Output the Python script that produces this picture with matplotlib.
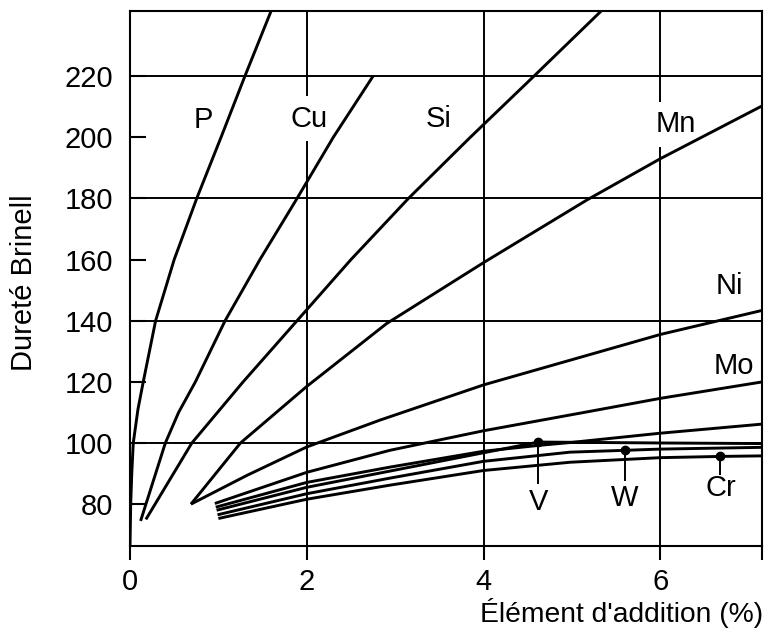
import numpy as np
import matplotlib
matplotlib.use('Agg')
import matplotlib.pyplot as plt

plt.rcParams['font.family'] = ['Liberation Sans', 'DejaVu Sans']
plt.rcParams['font.size'] = 21

# curves: (% of element, Brinell hardness)
p_x = [0.0, 0.008, 0.02, 0.037, 0.09, 0.15, 0.29, 0.5, 0.755, 1.03, 1.3, 1.62]
p_y = [66.3, 80, 90, 100, 111, 120, 140, 160, 180, 200, 220, 243]
cu_x = [0.12, 0.4, 0.55, 0.74, 1.076, 1.47, 1.89, 2.3, 2.75]
cu_y = [74.5, 100, 110, 120, 140, 160, 180, 200, 220]
si_x = [0.18, 0.7, 1.28, 1.89, 2.5, 3.15, 3.85, 4.57, 5.37]
si_y = [75, 100, 120, 140, 160, 180, 200, 220, 242.4]
mn_x = [0.69, 1.25, 2.0, 2.9, 4.0, 5.17, 6.0, 7.2]
mn_y = [80, 100, 118.5, 139, 159, 179.5, 193, 211]
ni_x = [0.69, 1.33, 2.0, 2.83, 4.0, 6.0, 7.2]
ni_y = [80, 89.5, 98.7, 107.5, 119, 135.5, 143.7]
mo_x = [0.96, 2.0, 2.94, 4.0, 5.1, 6.0, 7.2]
mo_y = [80.2, 90.4, 97.6, 104, 109.8, 114.6, 120.2]
x6_x = [0.97, 2.0, 2.94, 4.0, 4.62, 5.0, 6.0, 7.2]
x6_y = [79, 87.1, 92.1, 97.3, 99.2, 100.2, 103.2, 106.3]
v_x = [0.98, 2.0, 2.94, 4.0, 4.62, 5.1, 6.0, 7.2]
v_y = [78, 85.5, 90.8, 96.8, 100.3, 100.2, 100.0, 99.8]
w_x = [0.99, 2.0, 2.94, 4.0, 4.98, 5.6, 6.0, 7.2]
w_y = [76.5, 83.4, 88.5, 94.0, 97.0, 97.6, 98.0, 98.6]
cr_x = [1.0, 2.0, 2.94, 4.0, 4.98, 6.0, 6.68, 7.2]
cr_y = [75.3, 81.6, 86.2, 91.0, 93.7, 95.2, 95.6, 95.8]

# marked points with their labels
mark_names = ['V', 'W', 'Cr']
mark_x = [4.62, 5.6, 6.68]
mark_y = [100.3, 97.6, 95.6]
stem_end = [86.8, 87.9, 89.8]
mark_lab_y = [80.8, 81.9, 85.2]

# curve labels
lab_names = ['P', 'Cu', 'Si', 'Mn', 'Ni', 'Mo']
lab_x = [0.83, 2.03, 3.49, 6.17, 6.78, 6.83]
lab_y = [205.6, 206.1, 205.9, 204.2, 151.2, 125.2]

fig = plt.figure(figsize=(7.66, 6.34), dpi=100)
ax = fig.add_axes([0.1697, 0.1388, 0.8251, 0.8443])

xmax = 7.15
ax.set_xlim(0, xmax)
ax.set_ylim(66.3, 241.4)

# grid
for gy in [100, 140, 180, 220]:
    ax.axhline(gy, color='black', lw=1.4, zorder=1)
for gx in [2, 4, 6]:
    ax.axvline(gx, color='black', lw=1.4, zorder=1)

curves = [(p_x, p_y), (cu_x, cu_y), (si_x, si_y), (mn_x, mn_y), (ni_x, ni_y),
          (mo_x, mo_y), (x6_x, x6_y), (v_x, v_y), (w_x, w_y), (cr_x, cr_y)]
for cx, cy in curves:
    ax.plot(cx, cy, color='black', lw=2.1, solid_capstyle='butt', zorder=2)

for name, mx, my, se, ly in zip(mark_names, mark_x, mark_y, stem_end, mark_lab_y):
    ax.plot([mx, mx], [my, se], color='black', lw=1.4, zorder=3)
    ax.plot(mx, my, 'o', color='black', ms=6, zorder=4)
    ax.text(mx, ly, name, ha='center', va='center', zorder=5)

# white boxes behind labels break the grid lines, curves stay on top
for name, lx, ly in zip(lab_names, lab_x, lab_y):
    ax.text(lx, ly, name, ha='center', va='center', zorder=1.5,
            bbox=dict(facecolor='white', edgecolor='none', pad=6))

for s in ax.spines.values():
    s.set_linewidth(1.5)

ax.set_xticks([0, 2, 4, 6, xmax])
ax.set_xticklabels(['0', '2', '4', '6', ''])
ax.tick_params(axis='x', direction='out', length=10, width=1.5, pad=6)
ax.set_yticks([80, 100, 120, 140, 160, 180, 200, 220])
ax.tick_params(axis='y', direction='in', length=11.5, width=1.5, pad=12)

ax.set_xlabel("Élément d'addition (%)", loc='right', fontsize=20.3)
ax.xaxis.set_label_coords(1.0016, -0.097)
ax.set_ylabel('Dureté Brinell')
ax.yaxis.set_label_coords(-0.145, 0.492)

fig.savefig('out.png', dpi=100)
